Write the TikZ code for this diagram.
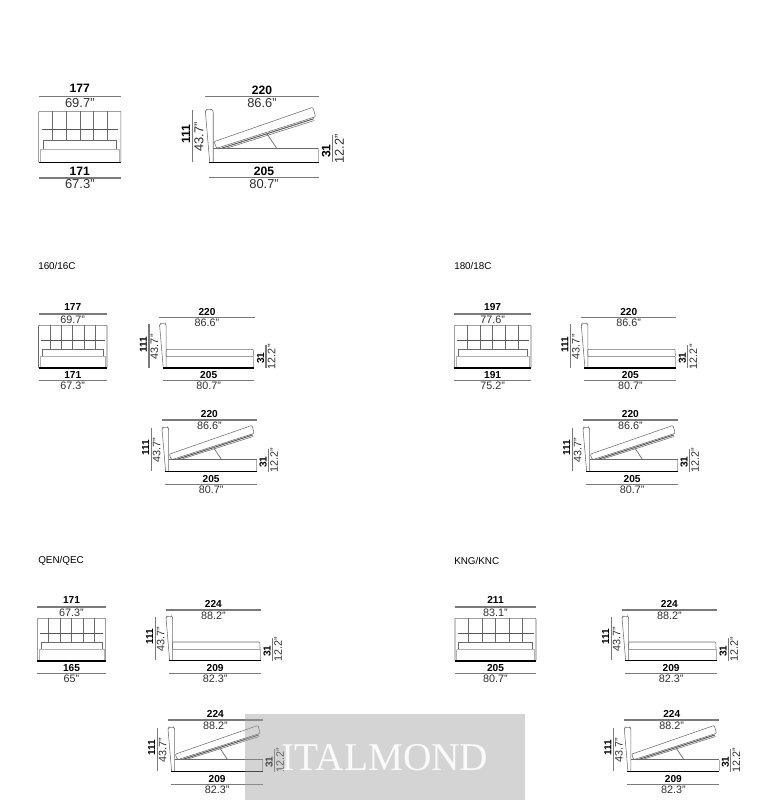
\documentclass[tikz,border=0pt]{standalone}
\usepackage{fontspec}
\setmainfont{Liberation Sans}
\newfontfamily\markfont{Liberation Serif}
\definecolor{dimline}{HTML}{7A7A7A}
\definecolor{bedline}{HTML}{6A6A6A}
\definecolor{faintline}{HTML}{B0B0B0}
\definecolor{inktext}{HTML}{303030}
\definecolor{markgray}{HTML}{A0A0A0}
\tikzset{
    dimrule/.style = {draw = dimline, line width = 1pt},
    bedrule/.style = {draw = bedline, line width = 0.4pt},
    fadedrule/.style = {draw = faintline, line width = 0.4pt},
    darkrule/.style = {draw = bedline!80!black, line width = 0.7pt},
    floorrule/.style = {draw = black, line width = 1.1pt},
    cmtext/.style = {inner sep = 0pt, font = \fontsize{7.6}{8}\selectfont\bfseries},
    inchtext/.style = {inner sep = 0pt, text = inktext, font = \fontsize{8.1}{8}\selectfont},
    grouplabel/.style = {inner sep = 0pt, anchor = west, font = \fontsize{7.4}{8}\selectfont}
}
% front view: name, position, width, scale, lift of top rule, four labels
\newcommand{\frontbed}[9]{
    \begin{scope}[shift = {(#2)}, scale = #4, transform shape]
        \draw[dimrule] (0,-#5) -- (#3,-#5);
        \node[cmtext] (#1top) at ({#3/2},-6.6-#5) {#6};
        \node[inchtext] (#1topin) at ({#3/2},5.3-#5) {#7};
        \draw[bedrule, rounded corners = 0.6pt] (0,53.7) -- (0,11.3) -- (#3,11.3) -- (#3,53.7);
        \foreach \i in {1,...,5}
            \draw[bedrule] ({#3*\i/6},11.3) -- ({#3*\i/6},35.3);
        \draw[darkrule] (2.5,26) -- ({#3-2.5},26);
        \draw[bedrule] (3.5,42.5) -- (3.5,35.3) -- ({#3-3.5},35.3) -- ({#3-3.5},42.5);
        \draw[fadedrule] (1.5,53.7) -- (1.5,42.5) (1.5,42.5) -- ({#3-1.5},42.5) -- ({#3-1.5},53.7);
        \draw[floorrule] (0,54) -- (#3,54);
        \node[cmtext] (#1bot) at ({#3/2},61.3) {#8};
        \draw[dimrule] (0,66.7) -- (#3,66.7);
        \node[inchtext] (#1botin) at ({#3/2},72.1) {#9};
    \end{scope}
}
% side view: name, position, scale, lift of top rule, four labels, mattress
\newcommand{\sidebed}[9]{
    \begin{scope}[shift = {(#2)}, scale = #3, transform shape]
        \draw[dimrule] (0,-#4) -- (95.4,-#4);
        \node[cmtext] (#1top) at (47.7,-5.7-#4) {#5};
        \node[inchtext] (#1topin) at (47.7,5.3-#4) {#6};
        \draw[dimrule] (-10.3,6.5) -- (-10.3,50.2);
        \node[cmtext, rotate = 90] (#1h) at (-16,27) {111};
        \node[inchtext, rotate = 90] (#1hin) at (-5,29.4) {43.7"};
        \draw[bedrule, rounded corners = 0.8pt] (3.9,50) -- (0.3,8) -- (1,6.5) -- (6.1,6.2) -- (6.9,8) -- (6.9,50);
        #9
        \draw[floorrule] (3.4,50.5) -- (95,50.5);
        \draw[dimrule] (106.7,27.7) -- (106.7,50.5);
        \node[cmtext, rotate = 90] (#1m) at (101.4,41) {31};
        \node[inchtext, rotate = 90] (#1min) at (112.4,39.4) {12.2"};
        \node[cmtext] (#1bot) at (49.4,57.7) {#7};
        \draw[dimrule] (3.4,63.4) -- (95,63.4);
        \node[inchtext] (#1botin) at (49.4,68.8) {#8};
    \end{scope}
}
\newcommand{\flatmat}{
    \draw[bedrule, rounded corners = 0.6pt] (6.9,39.4) -- (6.9,32) -- (94,32) -- (94.4,39.4) -- cycle;
    \draw[fadedrule] (94.4,39.4) -- (94.4,50);
}
\newcommand{\liftmat}{
    \draw[bedrule, rounded corners = 0.8pt] (7.5,33.2) -- (90.3,4.4) -- (92.5,12.3) -- (9.8,38.7) -- cycle;
    \draw[darkrule] (13.9,38.7) -- (91,14);
    \draw[bedrule] (18,38.7) -- (91.5,15.5);
    \draw[dimline, line width = 0.6pt] (51.6,26.2) -- (59.9,38.7);
    \draw[bedrule] (6.9,38.7) -- (95,38.7);
    \draw[fadedrule] (95,38.7) -- (95,50);
}
\begin{document}
\begin{tikzpicture}[x = 0.75pt, y = -0.75pt]
    \useasboundingbox (0,0) rectangle (771,800);
    % top row
    \frontbed{fa}{38.7,97.9}{68.5}{1.2}{1}{177}{69.7"}{171}{67.3"}
    \sidebed{sa}{205,102}{1.195}{4.4}{220}{86.6"}{205}{80.7"}{\liftmat}
    % 160
    \node[grouplabel] (lab160) at (38,266) {160/16C};
    \frontbed{fb}{38.5,314}{68.5}{1}{0}{177}{69.7"}{171}{67.3"}
    \sidebed{sb}{159.3,317.3}{1}{0}{220}{86.6"}{205}{80.7"}{\flatmat}
    \sidebed{sc}{161.7,421}{1}{1}{220}{86.6"}{205}{80.7"}{\liftmat}
    % 180
    \node[grouplabel] (lab180) at (454,266) {180/18C};
    \frontbed{fd}{454.3,314}{76.7}{1}{0}{197}{77.6"}{191}{75.2"}
    \sidebed{sd}{581,317.3}{1}{0}{220}{86.6"}{205}{80.7"}{\flatmat}
    \sidebed{se}{582.7,421}{1}{1}{220}{86.6"}{205}{80.7"}{\liftmat}
    % queen
    \node[grouplabel] (labqen) at (38,561) {QEN/QEC};
    \frontbed{fq}{37.3,607}{68.4}{1}{0}{171}{67.3"}{165}{65"}
    \sidebed{sq}{165.7,610}{1}{0}{224}{88.2"}{209}{82.3"}{\flatmat}
    \sidebed{sr}{167.7,721}{1}{1}{224}{88.2"}{209}{82.3"}{\liftmat}
    % king
    \node[grouplabel] (labkng) at (454,561) {KNG/KNC};
    \frontbed{fk}{455,607}{81}{1}{0}{211}{83.1"}{205}{80.7"}
    \sidebed{sk}{621.7,610}{1}{0}{224}{88.2"}{209}{82.3"}{\flatmat}
    \sidebed{sl}{624,721}{1}{1}{224}{88.2"}{209}{82.3"}{\liftmat}
    % overlay
    \fill[markgray, opacity = 0.45] (245,714) rectangle (525,800);
    \node[inner sep = 0pt, text = white, opacity = 0.9, font = \markfont\fontsize{29.5}{30}\selectfont] (mark) at (385,757.5) {ITALMOND};
\end{tikzpicture}
\end{document}
